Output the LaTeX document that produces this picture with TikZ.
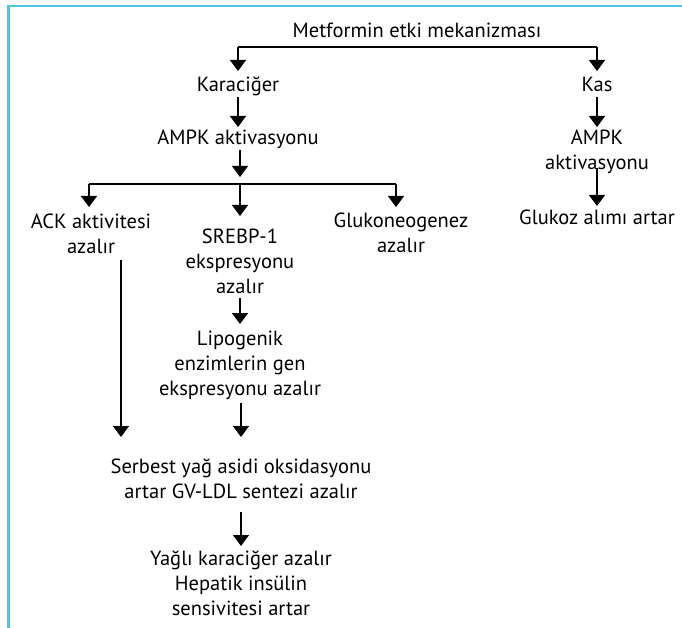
\documentclass[tikz,border=0pt]{standalone}
\usepackage{fontspec}
\setmainfont{PT Sans}
\usetikzlibrary{arrows.meta,calc}
\definecolor{frameblue}{RGB}{75,195,230}
\begin{document}
\begin{tikzpicture}[x=1pt,y=-1pt,
  lbl/.style={inner sep=0pt,align=center,anchor=base,font=\fontsize{20.5}{25}\selectfont},
  arr/.style={line width=1.1pt,-{Triangle[width=16pt,length=11pt]}},
  ln/.style={line width=1.1pt}]
\useasboundingbox (0,0) rectangle (682,628);
\fill[white] (0,0) rectangle (682,628);
\draw[frameblue,line width=2.4pt] (8.5,628) -- (8.5,6) -- (682,6);

\node[lbl] (title) at (417,38) {Metformin etki mekanizması};
\node[lbl] (kar) at (238,92) {Karaciğer};
\node[lbl] (kas) at (597,92) {Kas};
\node[lbl] (ampkL) at (238,145) {AMPK aktivasyonu};
\node[lbl] (ampkR) at (597,170) {AMPK\\aktivasyonu};
\node[lbl] (gluk) at (597,225) {Glukoz alımı artar};
\node[lbl] (ack) at (91,254) {ACK aktivitesi\\azalır};
\node[lbl] (srebp) at (240,293) {SREBP-1\\ekspresyonu\\azalır};
\node[lbl] (glukneo) at (401,253) {Glukoneogenez\\azalır};
\node[lbl] (lipo) at (240,395) {Lipogenik\\enzimlerin gen\\ekspresyonu azalır};
\node[lbl] (serb) at (241,498) {Serbest yağ asidi oksidasyonu\\artar GV-LDL sentezi azalır};
\node[lbl] (yagli) at (241,615) {Yağlı karaciğer azalır\\Hepatik insülin\\sensivitesi artar};

% top split
\coordinate (tL) at (kar |- 0,47);
\coordinate (tR) at (kas |- 0,47);
\draw[ln] (tL) -- (tR);
\draw[arr] (tL) -- (kar |- 0,71);
\draw[arr] (tR) -- (kas |- 0,71);
% vertical chains
\draw[arr] (kar |- 0,97) -- (ampkL |- 0,127);
\draw[arr] (kas |- 0,97) -- (ampkR |- 0,127);
\draw[arr] (ampkR |- 0,168) -- (gluk |- 0,206);
% AMPK left split
\coordinate (bar) at (240,184);
\draw[arr] (240,150) -- (bar |- 0,177);
\coordinate (bL) at (89,184);
\coordinate (bR) at (396,184);
\draw[ln] (bL) -- (bR);
\draw[arr] (bL) -- (89,207);
\draw[arr] (bar) -- (240,216);
\draw[arr] (bR) -- (396,207);
% lower chains
\draw[arr] (121,260) -- (121,437);
\draw[arr] (240,298) -- (240,324);
\draw[arr] (241,403) -- (241,437);
\draw[arr] (241,512) -- (241,546);
\end{tikzpicture}
\end{document}
